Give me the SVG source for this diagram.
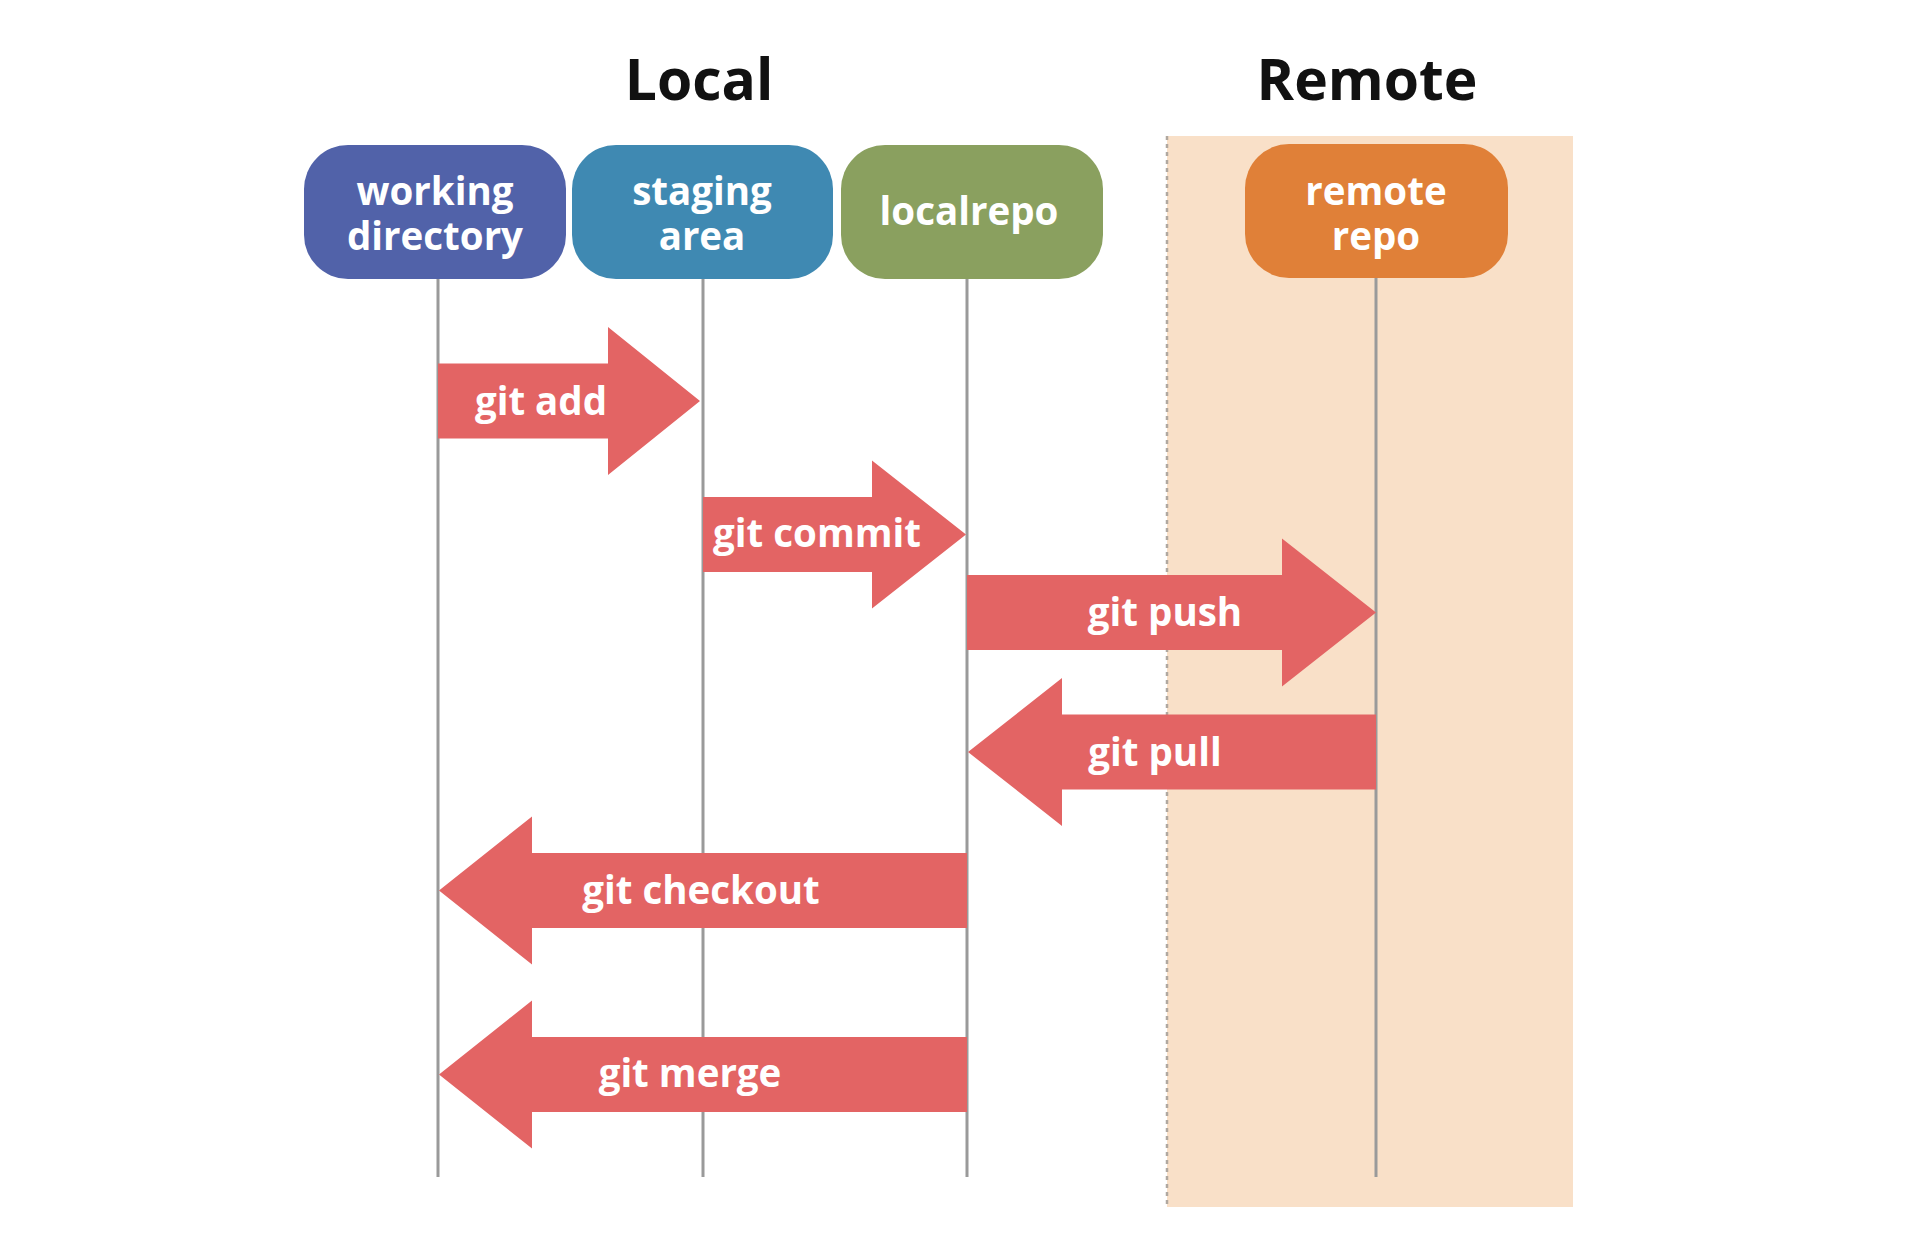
<svg xmlns="http://www.w3.org/2000/svg" width="1920" height="1248" viewBox="0 0 1920 1248">
<style>
.title{font-family:"Open Sans","Liberation Sans",sans-serif;font-weight:700;font-size:57px;fill:#111;text-anchor:middle}
.nlabel{font-family:"Open Sans","Liberation Sans",sans-serif;font-weight:700;font-size:38.5px;fill:#fff;text-anchor:middle}
.alabel{font-family:"Open Sans","Liberation Sans",sans-serif;font-weight:700;font-size:38.5px;fill:#fff;text-anchor:middle}
.life{stroke:#9a9a9a;stroke-width:3;fill:none}
.arrow{fill:#E36464}
</style>
<rect width="1920" height="1248" fill="#ffffff"/>
<g id="remote-zone">
<rect x="1167" y="136" width="406" height="1071" fill="#F9E0C8"/>
<line x1="1167" y1="136" x2="1167" y2="1207" stroke="#b0a8a0" stroke-width="2.5" stroke-dasharray="4 4"/>
</g>
<text class="title" x="699" y="100">Local</text>
<text class="title" x="1367" y="100">Remote</text>
<g id="lifelines">
<line class="life" x1="438" y1="279" x2="438" y2="1177"/>
<line class="life" x1="703" y1="279" x2="703" y2="1177"/>
<line class="life" x1="967" y1="279" x2="967" y2="1177"/>
<line class="life" x1="1376" y1="278" x2="1376" y2="1177"/>
</g>
<g id="node-working">
<rect x="304" y="145" width="262" height="134" rx="44" fill="#5162A9"/>
<text class="nlabel" x="435" y="205">working</text>
<text class="nlabel" x="435" y="250">directory</text>
</g>
<g id="node-staging">
<rect x="572" y="145" width="261" height="134" rx="44" fill="#3F89B2"/>
<text class="nlabel" x="702" y="205">staging</text>
<text class="nlabel" x="702" y="250">area</text>
</g>
<g id="node-localrepo">
<rect x="841" y="145" width="262" height="134" rx="44" fill="#8AA05F"/>
<text class="nlabel" x="969" y="225">localrepo</text>
</g>
<g id="node-remote">
<rect x="1245" y="144" width="263" height="134" rx="44" fill="#E08038"/>
<text class="nlabel" x="1376" y="205">remote</text>
<text class="nlabel" x="1376" y="250">repo</text>
</g>
<g id="connectors">
<g id="git-add">
<polygon class="arrow" points="438,363.5 608,363.5 608,327 700,401 608,475 608,438.5 438,438.5"/>
<text class="alabel" x="541" y="415">git add</text>
</g>
<g id="git-commit">
<polygon class="arrow" points="703,497 872,497 872,460.5 966,534.5 872,608.5 872,572 703,572"/>
<text class="alabel" x="817" y="547">git commit</text>
</g>
<g id="git-push">
<polygon class="arrow" points="967,575 1282,575 1282,538.5 1376,612.5 1282,686.5 1282,650 967,650"/>
<text class="alabel" x="1165" y="626">git push</text>
</g>
<g id="git-pull">
<polygon class="arrow" points="1376,714.5 1062,714.5 1062,678 968,752 1062,826 1062,789.5 1376,789.5"/>
<text class="alabel" x="1155" y="766">git pull</text>
</g>
<g id="git-checkout">
<polygon class="arrow" points="967,853 532,853 532,816.5 439,890.5 532,964.5 532,928 967,928"/>
<text class="alabel" x="701" y="904">git checkout</text>
</g>
<g id="git-merge">
<polygon class="arrow" points="967,1037 532,1037 532,1000.5 439,1074.5 532,1148.5 532,1112 967,1112"/>
<text class="alabel" x="690" y="1087">git merge</text>
</g>
</g>
</svg>
